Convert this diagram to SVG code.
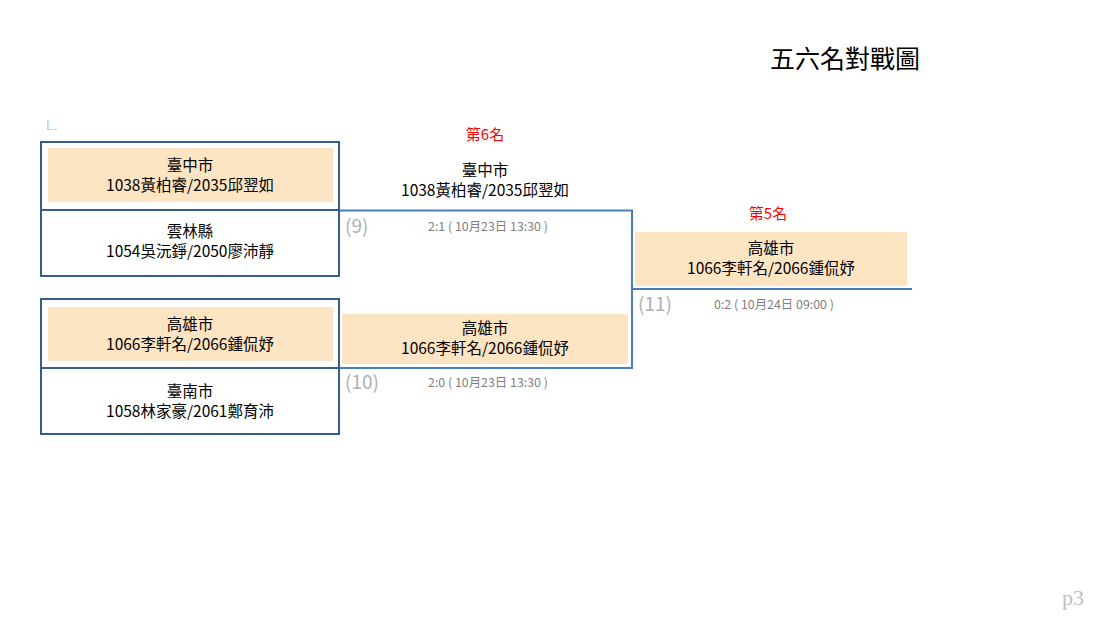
<svg xmlns="http://www.w3.org/2000/svg" width="1103" height="618" viewBox="0 0 1103 618">
<style>
.t{font-family:"Noto Sans CJK TC","Noto Sans CJK SC",sans-serif;font-size:15.5px;fill:#000;text-anchor:middle}
.red{font-family:"Noto Sans CJK TC",sans-serif;font-size:15px;fill:#ff0000;text-anchor:middle}
.sc{font-family:"Noto Sans CJK TC","Liberation Sans",sans-serif;font-size:12.4px;fill:#7f7f7f;text-anchor:middle}
.num{font-family:"Noto Sans CJK TC","Liberation Sans",sans-serif;font-size:19px;fill:#b0b0b0}
.box{fill:none;stroke:#385d8a;stroke-width:2}
.peach{fill:#fde4c3}
.ln{fill:none;stroke:#4a7ebb;stroke-width:2}
</style>
<rect width="1103" height="618" fill="#fff"/>
<text x="770" y="68" style="font-family:'Noto Sans CJK TC',sans-serif;font-size:25px;fill:#000">五六名對戰圖</text>
<text x="46" y="130" style="font-family:'Liberation Sans',sans-serif;font-size:14px;fill:#c8c8c8">L.</text>
<text x="1062" y="605" style="font-family:'Liberation Serif',serif;font-size:22px;fill:#bfbfbf">p3</text>
<g id="connectors">
<polyline class="ln" points="339,210.5 632,210.5 632,368 339,368"/>
<line class="ln" x1="632" y1="289" x2="912" y2="289"/>
</g>
<g id="match9">
<rect class="peach" x="48" y="148" width="285" height="54"/>
<rect class="box" x="41" y="142" width="298" height="134"/>
<line class="box" x1="41" y1="210" x2="339" y2="210"/>
<text class="t" x="190" y="171">臺中市</text>
<text class="t" x="190" y="191">1038黃柏睿/2035邱翌如</text>
<text class="t" x="190" y="237">雲林縣</text>
<text class="t" x="190" y="257">1054吳沅錚/2050廖沛靜</text>
</g>
<g id="match10">
<rect class="peach" x="48" y="307" width="285" height="54"/>
<rect class="box" x="41" y="299" width="298" height="135"/>
<line class="box" x1="41" y1="368" x2="339" y2="368"/>
<text class="t" x="190" y="330">高雄市</text>
<text class="t" x="190" y="350">1066李軒名/2066鍾侃妤</text>
<text class="t" x="190" y="397">臺南市</text>
<text class="t" x="190" y="417">1058林家豪/2061鄭育沛</text>
</g>
<g id="sixth">
<text class="red" x="485" y="140">第6名</text>
<text class="t" x="485" y="176">臺中市</text>
<text class="t" x="485" y="196">1038黃柏睿/2035邱翌如</text>
<text class="num" x="345" y="233">(9)</text>
<text class="sc" x="488" y="231">2:1 ( 10月23日 13:30 )</text>
</g>
<g id="winner10">
<rect class="peach" x="342" y="314" width="286" height="50"/>
<text class="t" x="485" y="334">高雄市</text>
<text class="t" x="485" y="354">1066李軒名/2066鍾侃妤</text>
<text class="num" x="345" y="389">(10)</text>
<text class="sc" x="488" y="387">2:0 ( 10月23日 13:30 )</text>
</g>
<g id="fifth">
<text class="red" x="768" y="219">第5名</text>
<rect class="peach" x="635" y="232" width="272" height="54"/>
<text class="t" x="771" y="254">高雄市</text>
<text class="t" x="771" y="274">1066李軒名/2066鍾侃妤</text>
<text class="num" x="638" y="311">(11)</text>
<text class="sc" x="774" y="309">0:2 ( 10月24日 09:00 )</text>
</g>
</svg>
